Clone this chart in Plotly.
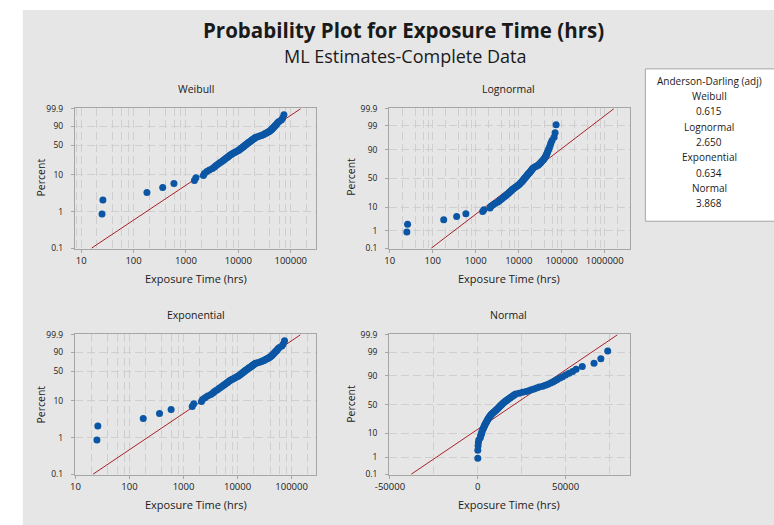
import math
from statistics import NormalDist
import numpy as np
import plotly.graph_objects as go

# ---------------- data ----------------
exposure_hrs = [
    25, 26, 180, 360, 590, 1450, 1550, 2150, 2250, 2500,
    2800, 3200, 3500, 3700, 4000, 4300, 4600, 4900, 5200, 5500,
    5800, 6100, 6400, 6700, 7000, 7400, 7800, 8200, 8700, 9200,
    9700, 10200, 10600, 11000, 11400, 11800, 12200, 12600, 13000, 13400,
    13800, 14200, 14700, 15200, 15700, 16200, 16700, 17300, 17900, 18500,
    19100, 19700, 20300, 20900, 21600, 23500, 25500, 27500, 29000, 30500,
    32000, 33500, 35000, 37000, 38500, 40000, 41500, 42800, 44000, 45300,
    46800, 48300, 50000, 52000, 54000, 56000, 59500, 66200, 70100, 74000,
]

dist_names = ["Weibull", "Lognormal", "Exponential", "Normal"]
ad_values = ["0.615", "2.650", "0.634", "3.868"]

pct_ticks_sev = [0.1, 1, 10, 50, 90, 99.9]
pct_ticks_norm = [0.1, 1, 10, 50, 90, 99, 99.9]
log_tick_vals = [10, 100, 1000, 10000, 100000, 1000000]
normal_tick_vals = [-50000, 0, 50000]
normal_minor_vals = [-25000, 25000, 75000]

# fitted (ML) parameters
weibull_shape, weibull_scale = 0.962, 20650.0
lognormal_loc, lognormal_scale = 9.415, 1.582
exponential_mean = 21100.0
normal_mean, normal_sd = 20800.0, 19000.0

# ---------------- helpers ----------------
W, H = 774, 525
def PX(x): return x / W
def PY(y): return 1 - y / H

nd = NormalDist()
def sev(p): return math.log(-math.log(1 - p))
def znorm(p): return nd.inv_cdf(p)

x_sorted = np.sort(np.array(exposure_hrs, dtype=float))
n = len(x_sorted)
ranks = np.arange(1, n + 1)
p_med = (ranks - 0.3) / (n + 0.4)       # median ranks (Benard)

y_sev = [sev(p) for p in p_med]
y_norm = [znorm(p) for p in p_med]

p_ends = [0.001, 0.999]
wb_line_x = [weibull_scale * (-math.log(1 - p)) ** (1 / weibull_shape) for p in p_ends]
ln_line_x = [math.exp(lognormal_loc + lognormal_scale * znorm(p)) for p in p_ends]
ex_line_x = [exponential_mean * (-math.log(1 - p)) for p in p_ends]
no_line_x = [normal_mean + normal_sd * znorm(p) for p in p_ends]

BLUE = "#0b56a4"
RED = "#a8222a"
GRID = "#cfcfcf"
FRAME = "#a6a6a6"
TXT = "#1a1a1a"
FONT = "Segoe UI, Open Sans, sans-serif"
DASH = "8px,4px"

fig = go.Figure()

panels = [
    ("x", "y", x_sorted, y_sev, wb_line_x, [sev(p) for p in p_ends]),
    ("x2", "y2", x_sorted, y_norm, ln_line_x, [znorm(p) for p in p_ends]),
    ("x3", "y3", x_sorted, y_sev, ex_line_x, [sev(p) for p in p_ends]),
    ("x4", "y4", x_sorted, y_norm, no_line_x, [znorm(p) for p in p_ends]),
]
for xa, ya, xs, ys, lx, ly in panels:
    fig.add_trace(go.Scatter(x=lx, y=ly, xaxis=xa, yaxis=ya, mode="lines",
                             line=dict(color=RED, width=1), hoverinfo="skip",
                             showlegend=False, cliponaxis=True))
    fig.add_trace(go.Scatter(x=xs, y=ys, xaxis=xa, yaxis=ya, mode="markers",
                             marker=dict(color=BLUE, size=7, line=dict(width=0)),
                             showlegend=False))

minor_log = [k * 10 ** d for d in range(0, 7) for k in (2, 4, 6, 8)]

def fmt_pct(v):
    return ("%g" % v)

def log_xaxis(rng, dom):
    return dict(type="log", range=rng, domain=dom, tickmode="array",
                tickvals=log_tick_vals, ticktext=[str(v) for v in log_tick_vals],
                showgrid=True, gridcolor=GRID, griddash=DASH, gridwidth=1,
                minor=dict(tickmode="array", tickvals=minor_log, showgrid=True,
                           gridcolor=GRID, griddash=DASH, gridwidth=1, ticklen=0),
                showline=True, mirror=True, linecolor=FRAME, linewidth=1,
                ticks="outside", ticklen=3, tickcolor=FRAME,
                tickfont=dict(family=FONT, size=9.5, color=TXT),
                zeroline=False, fixedrange=True)

def prob_yaxis(ticks, func, dom, anchor):
    lo, hi = func(0.001), func(0.999)
    pad = (hi - lo) * 0.004
    return dict(range=[lo - pad, hi + pad], domain=dom, anchor=anchor,
                tickmode="array", tickvals=[func(t / 100) for t in ticks],
                ticktext=[fmt_pct(t) for t in ticks],
                showgrid=True, gridcolor=GRID, griddash=DASH, gridwidth=1,
                showline=True, mirror=True, linecolor=FRAME, linewidth=1,
                ticks="outside", ticklen=3, tickcolor=FRAME, ticklabelstandoff=6,
                tickfont=dict(family=FONT, size=8.5, color=TXT),
                zeroline=False, fixedrange=True)

dx_left = [PX(62), PX(308)]
dx_right = [PX(382), PX(627)]
dy_top = [PY(248), PY(105)]
dy_bot = [PY(478), PY(335)]

fig.update_layout(
    width=W, height=H, margin=dict(l=0, r=0, t=0, b=0),
    paper_bgcolor="white", plot_bgcolor="white", showlegend=False,
    xaxis=dict(log_xaxis([0.88, 5.49], dx_left), anchor="y"),
    yaxis=prob_yaxis(pct_ticks_sev, sev, dy_top, "x"),
    xaxis2=dict(log_xaxis([0.985, 6.58], dx_right), anchor="y2"),
    yaxis2=prob_yaxis(pct_ticks_norm, znorm, dy_top, "x2"),
    xaxis3=dict(log_xaxis([0.99, 5.46], dx_left), anchor="y3"),
    yaxis3=prob_yaxis(pct_ticks_sev, sev, dy_bot, "x3"),
    xaxis4=dict(type="linear", range=[-50500, 86500], domain=dx_right, anchor="y4",
                tickmode="array", tickvals=normal_tick_vals,
                ticktext=[str(v) for v in normal_tick_vals],
                showgrid=True, gridcolor=GRID, griddash=DASH,
                minor=dict(tickmode="array", tickvals=normal_minor_vals, showgrid=True,
                           gridcolor=GRID, griddash=DASH, ticklen=0),
                showline=True, mirror=True, linecolor=FRAME, linewidth=1,
                ticks="outside", ticklen=3, tickcolor=FRAME,
                tickfont=dict(family=FONT, size=9.5, color=TXT),
                zeroline=False, fixedrange=True),
    yaxis4=prob_yaxis(pct_ticks_norm, znorm, dy_bot, "x4"),
)

shapes = [
    dict(type="rect", xref="paper", yref="paper", x0=PX(9), x1=PX(780), y0=PY(530), y1=PY(5),
         fillcolor="#e6e6e6", line=dict(width=0), layer="below"),
    dict(type="rect", xref="paper", yref="paper", x0=PX(643), x1=PX(790), y0=PY(220), y1=PY(65),
         fillcolor="white", line=dict(color=FRAME, width=1), layer="below"),
]
fig.update_layout(shapes=shapes)

ann = []
def text(x, y, s, size, bold=False, angle=0):
    ann.append(dict(x=PX(x), y=PY(y), xref="paper", yref="paper", text=("<b>%s</b>" % s) if bold else s,
                    showarrow=False, xanchor="center", yanchor="middle", textangle=angle,
                    font=dict(family=FONT, size=size, color=TXT)))

text(397, 25, "Probability Plot for Exposure Time (hrs)", 20.5, bold=True)
text(399, 52, "ML Estimates-Complete Data", 18)

centers = [(185, 85, 258, 278, 28, 175), (504, 85, 258, 278, 343, 175),
           (185, 315, 488, 508, 28, 406), (504, 315, 488, 508, 343, 406)]
for name, (cx, ty, _, xt, px_, py_) in zip(dist_names, centers):
    text(cx, ty, name, 10.5)
    text(cx, xt, "Exposure Time (hrs)", 11)
    text(px_, py_, "Percent", 10.5, angle=-90)

legend_lines = ["Anderson-Darling (adj)"]
for nm, v in zip(dist_names, ad_values):
    legend_lines += [nm, v]
for i, s in enumerate(legend_lines):
    text(708, 77 + i * 15.6, s, 10)

fig.update_layout(annotations=ann)
fig.write_html("out.html",
               post_script="document.body.style.margin='0';document.body.style.padding='0';")
